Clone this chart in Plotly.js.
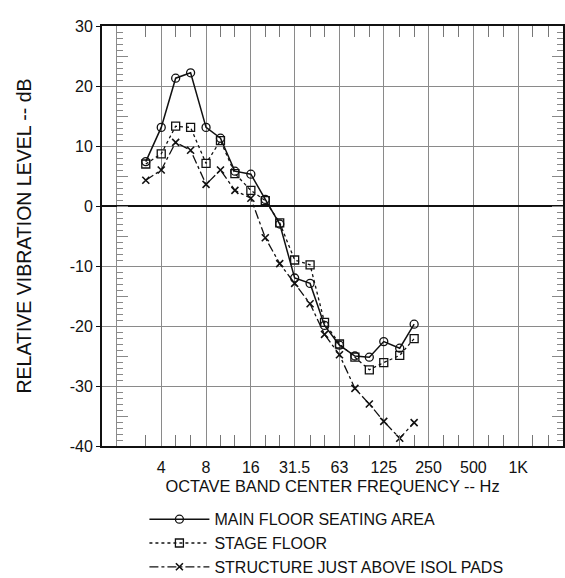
<!DOCTYPE html>
<html>
<head>
<meta charset="utf-8">
<script src="https://cdn.plot.ly/plotly-3.0.1.min.js"></script>
<style>html,body{margin:0;padding:0;background:#fff;}#chart{width:565px;height:578px;}</style>
</head>
<body>
<div id="chart"></div>
<script>
// 1/3-octave band centre frequencies (Hz)
const freqs = [3.15, 4, 5, 6.3, 8, 10, 12.5, 16, 20, 25, 31.5, 40, 50, 63, 80, 100, 125, 160, 200];
// Relative vibration level (dB)
const mainFloor = [7.4, 13.1, 21.3, 22.2, 13.1, 11.3, 5.8, 5.3, 1.1, -3.0, -12.0, -12.9, -19.9, -23.2, -25.0, -25.2, -22.6, -23.7, -19.7];
const stageFloor = [7.0, 8.7, 13.3, 13.1, 7.1, 10.9, 5.4, 2.6, 0.9, -2.8, -9.0, -9.8, -19.4, -23.0, -25.2, -27.3, -26.1, -24.9, -22.1];
const structure = [4.3, 6.0, 10.6, 9.3, 3.6, 6.0, 2.6, 1.3, -5.3, -9.6, -12.9, -16.3, -21.4, -24.8, -30.4, -33.0, -35.9, -38.7, -36.1];
const seriesNames = ["MAIN FLOOR SEATING AREA", "STAGE FLOOR", "STRUCTURE JUST ABOVE ISOL PADS"];
// Axis ticks
const octaveTicks = [2, 4, 8, 16, 31.5, 63, 125, 250, 500, 1000];
const octaveLabels = ["", "4", "8", "16", "31.5", "63", "125", "250", "500", "1K"];
const thirdOctaveTicks = [3.15, 5, 6.3, 10, 12.5, 20, 25, 40, 50, 80, 100, 160, 200, 315, 400, 630, 800, 1250, 1600];
const yTicks = [-40, -30, -20, -10, 0, 10, 20, 30];
const yLabels = ["-40", "-30", "-20", "-10", "0", "10", "20", "30"];

const FONT = "Liberation Sans, Arial, Helvetica, sans-serif";
const xRange = [Math.log10(1.6), Math.log10(2000)];
const yRange = [-40, 30];

const traces = [
  {x: freqs, y: mainFloor, name: seriesNames[0], mode: "lines+markers",
   line: {color: "#111", width: 1.5, dash: "solid"},
   marker: {symbol: "circle-open", size: 8, color: "#111", line: {width: 1.3}}},
  {x: freqs, y: stageFloor, name: seriesNames[1], mode: "lines+markers",
   line: {color: "#111", width: 1.3, dash: "dot"},
   marker: {symbol: "square-open", size: 8, color: "#111", line: {width: 1.3}}},
  {x: freqs, y: structure, name: seriesNames[2], mode: "lines+markers",
   line: {color: "#111", width: 1.3, dash: "dashdot"},
   marker: {symbol: "x-thin-open", size: 7, color: "#111", line: {width: 1.6}}},
  // empty helper traces so overlay axes get drawn
  {x: [], y: [], xaxis: "x2", yaxis: "y", showlegend: false, hoverinfo: "skip"},
  {x: [], y: [], xaxis: "x3", yaxis: "y", showlegend: false, hoverinfo: "skip"},
  {x: [], y: [], xaxis: "x", yaxis: "y2", showlegend: false, hoverinfo: "skip"},
  {x: [], y: [], xaxis: "x", yaxis: "y3", showlegend: false, hoverinfo: "skip"}
];

const pos2Hz = (Math.log10(2) - xRange[0]) / (xRange[1] - xRange[0]);

const layout = {
  width: 565, height: 578,
  margin: {l: 102, r: 2, t: 26, b: 132, autoexpand: false},
  paper_bgcolor: "#fff", plot_bgcolor: "#fff",
  font: {family: FONT, color: "#111", size: 15},
  showlegend: true,
  legend: {x: 0.092, xanchor: "left", y: 0.131, yref: "container", yanchor: "top",
           font: {family: FONT, size: 16, color: "#111"},
           bgcolor: "rgba(0,0,0,0)", tracegroupgap: 0, itemwidth: 60},
  xaxis: {type: "log", range: xRange, tickvals: octaveTicks, ticktext: octaveLabels,
          showgrid: true, gridcolor: "#8a8a8a", gridwidth: 1,
          showline: true, linecolor: "#111", linewidth: 2, mirror: true,
          ticks: "outside", ticklen: 6, tickcolor: "rgba(0,0,0,0)",
          tickfont: {size: 16, family: FONT, color: "#111"},
          title: {text: "OCTAVE BAND CENTER FREQUENCY -- Hz", font: {size: 16.4, family: FONT, color: "#111"}, standoff: 5},
          zeroline: false},
  xaxis2: {type: "log", range: xRange, overlaying: "x", anchor: "y", side: "bottom",
           tickvals: thirdOctaveTicks, ticks: "inside", ticklen: 11, tickwidth: 1, tickcolor: "#777",
           showticklabels: false, showgrid: false, showline: false, zeroline: false},
  xaxis3: {type: "log", range: xRange, overlaying: "x", anchor: "y", side: "top",
           tickvals: thirdOctaveTicks, ticks: "inside", ticklen: 11, tickwidth: 1, tickcolor: "#777",
           showticklabels: false, showgrid: false, showline: false, zeroline: false},
  yaxis: {range: yRange, tickvals: yTicks, ticktext: yLabels, showgrid: true, gridcolor: "#8a8a8a", gridwidth: 1,
          zeroline: true, zerolinecolor: "#111", zerolinewidth: 2,
          showline: true, linecolor: "#111", linewidth: 2, mirror: true,
          ticks: "outside", ticklen: 4, tickcolor: "#111",
          tickfont: {size: 16, family: FONT, color: "#111"},
          title: {text: "RELATIVE VIBRATION LEVEL -- dB", font: {size: 19.5, family: FONT, color: "#111"}, standoff: 33}},
  yaxis2: {range: yRange, overlaying: "y", anchor: "free", position: pos2Hz, side: "left",
           dtick: 5, tick0: 0, ticks: "inside", ticklen: 11, tickwidth: 1, tickcolor: "#888",
           minor: {dtick: 1, tick0: 0, ticks: "inside", ticklen: 6, tickwidth: 1, tickcolor: "#888"},
           showticklabels: false, showgrid: false, showline: false, zeroline: false},
  yaxis3: {range: yRange, overlaying: "y", anchor: "x", side: "right",
           dtick: 5, tick0: 0, ticks: "inside", ticklen: 11, tickwidth: 1, tickcolor: "#888",
           minor: {dtick: 1, tick0: 0, ticks: "inside", ticklen: 6, tickwidth: 1, tickcolor: "#888"},
           showticklabels: false, showgrid: false, showline: false, zeroline: false}
};

Plotly.newPlot("chart", traces, layout, {displayModeBar: false, staticPlot: true});
</script>
</body>
</html>
